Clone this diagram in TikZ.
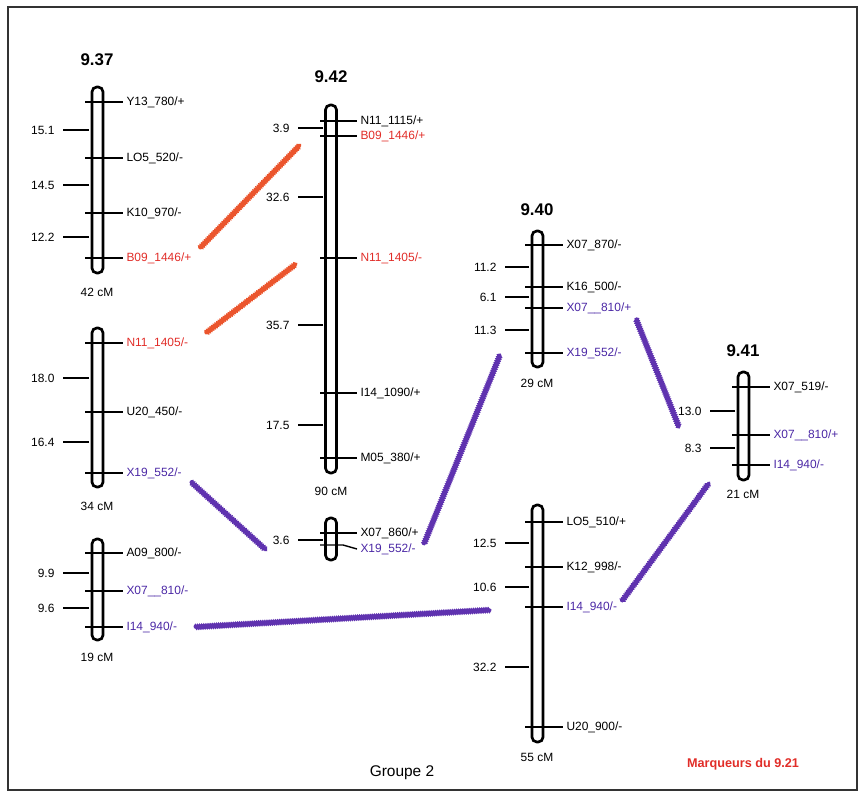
\documentclass[tikz,border=0pt]{standalone}
\usepackage{fontspec}
\setmainfont{Liberation Sans}
\usetikzlibrary{decorations.pathmorphing}
\definecolor{mkred}{RGB}{225,45,40}
\definecolor{mkviolet}{RGB}{75,40,165}
\definecolor{lkred}{RGB}{235,85,45}
\definecolor{lkviolet}{RGB}{95,50,175}

\begin{document}
\begin{tikzpicture}[
        x=0.025cm, y=-0.025cm,
        every node/.style={font=\fontsize{8.5}{10}\selectfont, inner sep=0pt},
        chrom/.style={line width=1.9pt, rounded corners=0.12cm},
        tick/.style={line width=1pt},
        dtick/.style={line width=1.2pt},
        mklabel/.style={anchor=west, xshift=2pt},
        dlabel/.style={anchor=east, xshift=-5.5pt},
        title/.style={font=\fontsize{12}{14}\selectfont\bfseries},
        link/.style={line width=2.4pt, line cap=round, decorate,
            decoration={zigzag, segment length=1.5pt, amplitude=0.5pt}}
    ]
    \useasboundingbox (0,0) rectangle (861,793);
    \draw[line width=1.2pt, black!80] (8,7) rectangle (857,790);

    % 9.37 (three pieces)
    \node[title] (t937) at (97,60) {9.37};
    \draw[chrom] (92,87) rectangle (103,273);
    \draw[tick] (85,102) -- (123,102) node[mklabel] (y13) {Y13\_780/+};
    \draw[tick] (85,158) -- (123,158) node[mklabel] (lo5a) {LO5\_520/-};
    \draw[tick] (85,213) -- (123,213) node[mklabel] (k10) {K10\_970/-};
    \draw[tick] (85,258) -- (123,258) node[mklabel, mkred] (b09a) {B09\_1446/+};
    \draw[dtick] (89,130) -- (63,130) node[dlabel] (d151) {15.1};
    \draw[dtick] (89,185) -- (63,185) node[dlabel] (d145) {14.5};
    \draw[dtick] (89,237) -- (63,237) node[dlabel] (d122) {12.2};
    \node (l937a) at (97,292) {42 cM};

    \draw[chrom] (92,328) rectangle (103,487);
    \draw[tick] (85,343) -- (123,343) node[mklabel, mkred] (n11a) {N11\_1405/-};
    \draw[tick] (85,412) -- (123,412) node[mklabel] (u20a) {U20\_450/-};
    \draw[tick] (85,473) -- (123,473) node[mklabel, mkviolet] (x19a) {X19\_552/-};
    \draw[dtick] (89,378) -- (63,378) node[dlabel] (d180) {18.0};
    \draw[dtick] (89,442) -- (63,442) node[dlabel] (d164) {16.4};
    \node (l937b) at (97,506) {34 cM};

    \draw[chrom] (92,539) rectangle (103,640);
    \draw[tick] (85,553) -- (123,553) node[mklabel] (a09) {A09\_800/-};
    \draw[tick] (85,591) -- (123,591) node[mklabel, mkviolet] (x07a) {X07\_\_810/-};
    \draw[tick] (85,627) -- (123,627) node[mklabel, mkviolet] (i14a) {I14\_940/-};
    \draw[dtick] (89,573) -- (63,573) node[dlabel] (d99) {9.9};
    \draw[dtick] (89,608) -- (63,608) node[dlabel] (d96) {9.6};
    \node (l937c) at (97,657) {19 cM};

    % 9.42
    \node[title] (t942) at (331,77) {9.42};
    \draw[chrom] (325.5,105) rectangle (336.5,473);
    \draw[tick] (320,121) -- (357,121) node[mklabel] (n11b) {N11\_1115/+};
    \draw[tick] (320,136) -- (357,136) node[mklabel, mkred] (b09b) {B09\_1446/+};
    \draw[tick] (320,258) -- (357,258) node[mklabel, mkred] (n11c) {N11\_1405/-};
    \draw[tick] (320,393) -- (357,393) node[mklabel] (i14b) {I14\_1090/+};
    \draw[tick] (320,458) -- (357,458) node[mklabel] (m05) {M05\_380/+};
    \draw[dtick] (323,128) -- (298,128) node[dlabel] (d39) {3.9};
    \draw[dtick] (323,197) -- (298,197) node[dlabel] (d326) {32.6};
    \draw[dtick] (323,325) -- (298,325) node[dlabel] (d357) {35.7};
    \draw[dtick] (323,425) -- (298,425) node[dlabel] (d175) {17.5};
    \node (l942) at (331,491) {90 cM};

    \draw[chrom] (325.5,518) rectangle (336.5,560);
    \draw[tick] (320,533) -- (357,533) node[mklabel] (x07b) {X07\_860/+};
    \draw[tick] (320,545) -- (343,545) -- (357,549) node[mklabel, mkviolet] (x19b) {X19\_552/-};
    \draw[dtick] (323,540) -- (298,540) node[dlabel] (d36) {3.6};

    % 9.40 (two pieces)
    \node[title] (t940) at (537,210) {9.40};
    \draw[chrom] (532,231) rectangle (543,367);
    \draw[tick] (525,245) -- (563,245) node[mklabel] (x07c) {X07\_870/-};
    \draw[tick] (525,287) -- (563,287) node[mklabel] (k16) {K16\_500/-};
    \draw[tick] (525,308) -- (563,308) node[mklabel, mkviolet] (x07d) {X07\_\_810/+};
    \draw[tick] (525,353) -- (563,353) node[mklabel, mkviolet] (x19c) {X19\_552/-};
    \draw[dtick] (529,267) -- (505,267) node[dlabel] (d112) {11.2};
    \draw[dtick] (529,297) -- (505,297) node[dlabel] (d61) {6.1};
    \draw[dtick] (529,330) -- (505,330) node[dlabel] (d113) {11.3};
    \node (l940a) at (537,383) {29 cM};

    \draw[chrom] (532,505) rectangle (543,742);
    \draw[tick] (525,522) -- (563,522) node[mklabel] (lo5b) {LO5\_510/+};
    \draw[tick] (525,567) -- (563,567) node[mklabel] (k12) {K12\_998/-};
    \draw[tick] (525,607) -- (563,607) node[mklabel, mkviolet] (i14c) {I14\_940/-};
    \draw[tick] (525,727) -- (563,727) node[mklabel] (u20b) {U20\_900/-};
    \draw[dtick] (529,543) -- (505,543) node[dlabel] (d125) {12.5};
    \draw[dtick] (529,587) -- (505,587) node[dlabel] (d106) {10.6};
    \draw[dtick] (529,667) -- (505,667) node[dlabel] (d322) {32.2};
    \node (l940b) at (537,757) {55 cM};

    % 9.41
    \node[title] (t941) at (743,351) {9.41};
    \draw[chrom] (738,372) rectangle (749,480);
    \draw[tick] (732,387) -- (770,387) node[mklabel] (x07e) {X07\_519/-};
    \draw[tick] (732,435) -- (770,435) node[mklabel, mkviolet] (x07f) {X07\_\_810/+};
    \draw[tick] (732,465) -- (770,465) node[mklabel, mkviolet] (i14d) {I14\_940/-};
    \draw[dtick] (735,411) -- (710,411) node[dlabel] (d130) {13.0};
    \draw[dtick] (735,448) -- (710,448) node[dlabel] (d83) {8.3};
    \node (l941) at (743,494) {21 cM};

    % links between maps
    \coordinate (r1a) at (200,248);  \coordinate (r1b) at (300,145);
    \coordinate (r2a) at (206,333);  \coordinate (r2b) at (296,264);
    \coordinate (v1a) at (191,482);  \coordinate (v1b) at (266,550);
    \coordinate (v2a) at (424,544);  \coordinate (v2b) at (500,355);
    \coordinate (v3a) at (195,627);  \coordinate (v3b) at (490,610);
    \coordinate (v4a) at (636,319);  \coordinate (v4b) at (679,427);
    \coordinate (v5a) at (622,601);  \coordinate (v5b) at (709,483);
    \draw[link, lkred] (r1a) -- (r1b);
    \draw[link, lkred] (r2a) -- (r2b);
    \draw[link, lkviolet] (v1a) -- (v1b);
    \draw[link, lkviolet] (v2a) -- (v2b);
    \draw[link, lkviolet] (v3a) -- (v3b);
    \draw[link, lkviolet] (v4a) -- (v4b);
    \draw[link, lkviolet] (v5a) -- (v5b);

    \node[font=\fontsize{11}{13}\selectfont] (grp) at (402,773) {Groupe 2};
    \node[font=\fontsize{9}{11}\selectfont\bfseries, mkred] (leg) at (743,764) {Marqueurs du 9.21};
\end{tikzpicture}
\end{document}
